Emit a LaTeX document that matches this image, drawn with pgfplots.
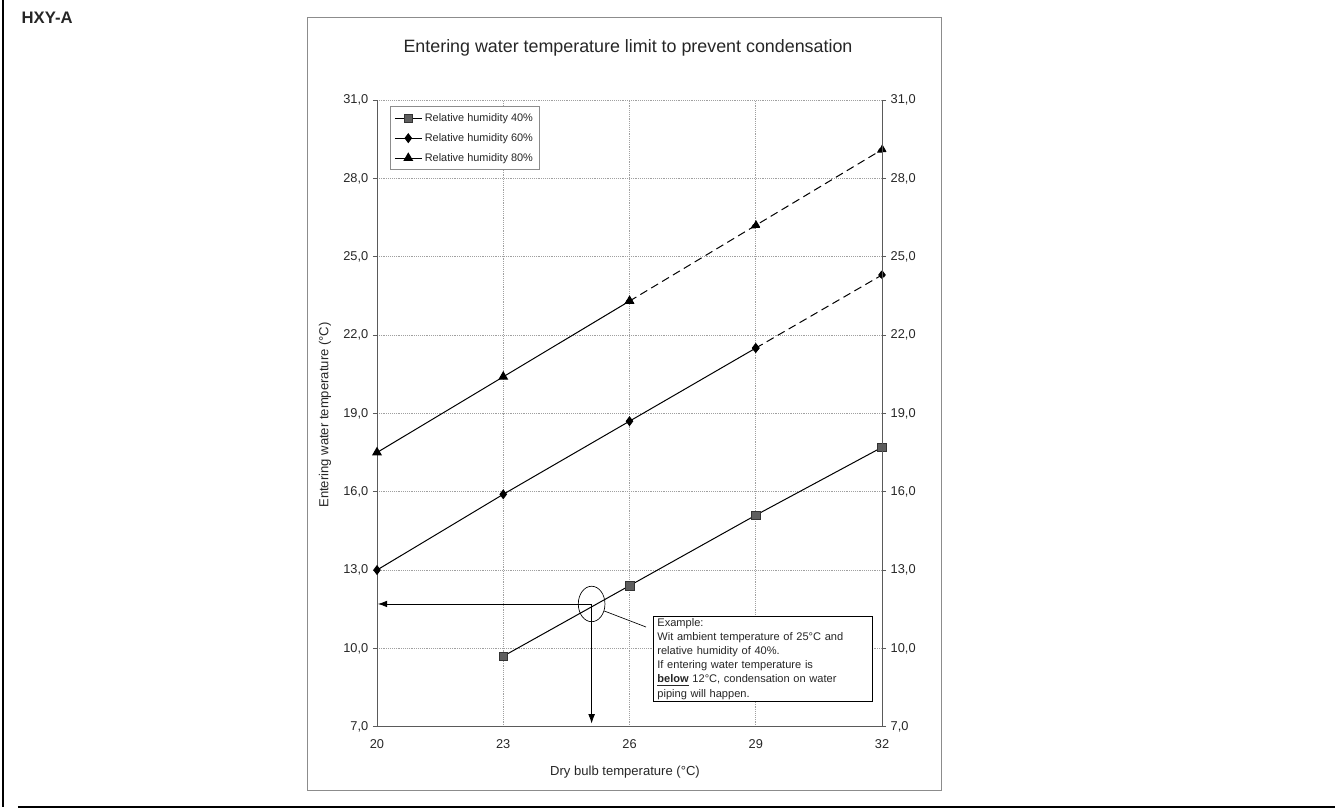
\documentclass[border=0pt]{standalone}
\usepackage{pgfplots}
\pgfplotsset{compat=1.18}
\usetikzlibrary{arrows.meta}
\usepackage{fontspec}
\setmainfont{Liberation Sans}
\definecolor{gridc}{HTML}{A0A0A0}
\definecolor{framec}{HTML}{8C8C8C}
\definecolor{axisc}{HTML}{5A5A5A}
\definecolor{sq}{HTML}{5E5E5E}

\pgfplotsset{
  chartbase/.style={
    scale only axis, width=378.75pt, height=470pt,
    xmin=20, xmax=32, ymin=7, ymax=31,
    ytick={7,10,...,31},
    tick align=outside, major tick length=3pt,
    ytick style={axisc, line width=0.5pt},
    axis line style={axisc, line width=0.6pt},
    ticklabel style={font=\fontsize{9.6}{11}\selectfont, text=black!85},
    yticklabel style={/pgf/number format/fixed, /pgf/number format/fixed zerofill,
      /pgf/number format/precision=1, /pgf/number format/use comma},
    /pgf/number format/assume math mode=true,
  },
  rh/.style={black, line width=0.75pt, mark options={solid}},
}

\begin{document}
\begin{tikzpicture}
% page in pixel units of the reference
\begin{scope}[x=0.75pt, y=-0.75pt, shift={(-377,-726.7)}]
  \path[use as bounding box] (0,0) rectangle (1335,809);
  \draw[black, line width=2.2pt] (3,0) -- (3,807.5);
  \draw[black, line width=1.5pt] (18,807.5) -- (1335,807.5);
  \draw[framec, line width=0.6pt] (307,17) rectangle (941,790);
  \node[font=\bfseries\fontsize{12.5}{14}\selectfont, text=black!85, anchor=west] at (17,18) {HXY-A};
  \node[font=\fontsize{13.4}{16}\selectfont, text=black!85] at (628,48)
    {Entering water temperature limit to prevent condensation};
  \node[font=\fontsize{9.8}{12}\selectfont, text=black!85] at (625,772)
    {Dry bulb temperature (°C)};
  \node[font=\fontsize{9.8}{12}\selectfont, text=black!85, rotate=90] at (325,415)
    {Entering water temperature (°C)};
\end{scope}

\begin{axis}[chartbase,
  xtick={20,23,26,29,32}, xtick style={draw=none},
  xticklabel style={yshift=-3pt},
  axis x line*=bottom, axis y line*=left,
  xmajorgrids, ymajorgrids,
  grid style={gridc, densely dotted, line width=0.5pt},
  clip=false,
  legend cell align=left,
  legend style={at={(0.026,0.99)}, anchor=north west, draw=framec, line width=0.5pt,
    font=\fontsize{8.2}{9.5}\selectfont, text=black!85, row sep=3.5pt,
    inner xsep=3pt, inner ysep=3pt},
  legend image code/.code={\draw[mark repeat=2, mark phase=2, #1]
    plot coordinates {(0pt,0pt) (10pt,0pt) (20pt,0pt)};},
]
\addplot[rh, mark=square*, mark size=3.2pt,
  mark options={fill=sq, draw=black!80, line width=0.4pt}]
  coordinates {(23,9.7) (26,12.4) (29,15.1) (32,17.7)};
\addlegendentry{Relative humidity 40\%}
\addplot[rh, mark=diamond*, mark size=3.2pt, mark options={fill=black}]
  coordinates {(20,13.0) (23,15.9) (26,18.7) (29,21.5)};
\addlegendentry{Relative humidity 60\%}
\addplot[rh, mark=triangle*, mark size=3.6pt, mark options={fill=black}]
  coordinates {(20,17.5) (23,20.4) (26,23.3)};
\addlegendentry{Relative humidity 80\%}
\addplot[rh, dash pattern=on 6pt off 3.5pt, mark=diamond*, mark size=3.2pt,
  mark options={fill=black}, forget plot]
  coordinates {(29,21.5) (32,24.3)};
\addplot[rh, dash pattern=on 6pt off 3.5pt, mark=triangle*, mark size=3.6pt,
  mark options={fill=black}, forget plot]
  coordinates {(26,23.3) (29,26.2) (32,29.1)};
% example annotation
\draw[black, line width=0.6pt, -{Latex[length=7pt,width=5pt]}]
  (axis cs:25.1,11.7) -- (axis cs:20.02,11.7);
\draw[black, line width=0.6pt, -{Latex[length=7pt,width=5pt]}]
  (axis cs:25.1,11.7) -- (axis cs:25.1,7.12);
\draw[black, line width=0.5pt] (axis cs:25.1,11.7) ellipse [x radius=10pt, y radius=13.3pt];
\end{axis}

\begin{axis}[chartbase,
  hide x axis, axis y line*=right,
]
\end{axis}

\begin{scope}[x=0.75pt, y=-0.75pt, shift={(-377,-726.7)}]
  \draw[black, line width=0.5pt] (604.3,611) -- (646,627);
  \node[draw=black, line width=0.6pt, fill=white, anchor=north west, align=left,
    minimum width=164pt, text width=158pt, inner xsep=3pt, inner ysep=1.5pt,
    font=\fontsize{8.3}{10.6}\selectfont, text=black!85] at (653,616)
    {Example:\\
     Wit ambient temperature of 25°C and\\
     relative humidity of 40\%.\\
     If entering water temperature is\\
     \underline{\textbf{below}} 12°C, condensation on water\\
     piping will happen.};
\end{scope}
\end{tikzpicture}
\end{document}
